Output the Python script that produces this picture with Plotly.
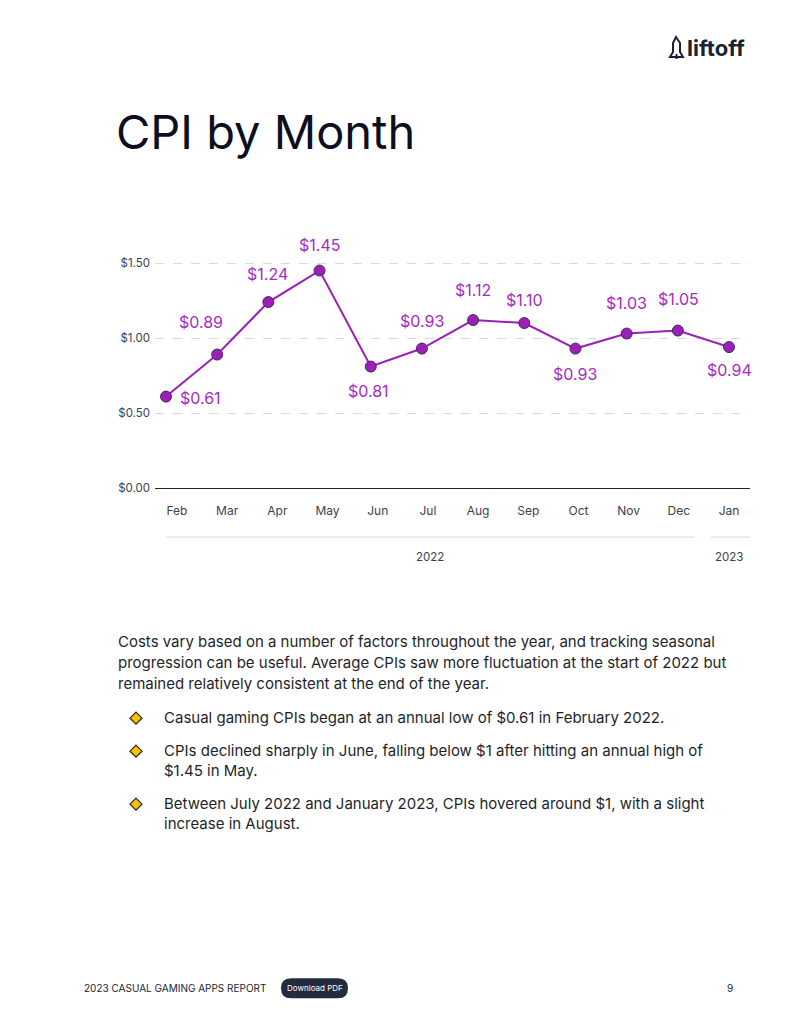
import plotly.graph_objects as go

# ---------------- data ----------------
months = ["Feb", "Mar", "Apr", "May", "Jun", "Jul", "Aug", "Sep", "Oct", "Nov", "Dec", "Jan"]
years = ["2022"] * 11 + ["2023"]
cpi = [0.61, 0.89, 1.24, 1.45, 0.81, 0.93, 1.12, 1.10, 0.93, 1.03, 1.05, 0.94]
y_ticks = [0.0, 0.5, 1.0, 1.5]
y_tick_text = ["$0.00", "$0.50", "$1.00", "$1.50"]

title_text = "CPI by Month"
paragraph = [
    "Costs vary based on a number of factors throughout the year, and tracking seasonal",
    "progression can be useful. Average CPIs saw more fluctuation at the start of 2022 but",
    "remained relatively consistent at the end of the year.",
]
bullets = [
    ["Casual gaming CPIs began at an annual low of $0.61 in February 2022."],
    ["CPIs declined sharply in June, falling below $1 after hitting an annual high of", "$1.45 in May."],
    ["Between July 2022 and January 2023, CPIs hovered around $1, with a slight", "increase in August."],
]
footer_left = "2023 CASUAL GAMING APPS REPORT"
footer_button = "Download PDF"
page_number = "9"
logo_text = "liftoff"

# ---------------- style ----------------
W, H = 800, 1035
VS = 1.007  # vertical calibration
PURPLE = "#9D1FBA"
LABEL_PURPLE = "#A52AC4"
DARK = "#1B2233"
TEXT = "#1E1F2B"
FONT = "Inter, Open Sans, sans-serif"

# label offsets in pixels (dx, dy) per point
label_offsets = [(34, 1), (-16, -33), (-1, -28), (0, -26), (-2, 24), (0, -28),
                 (0, -30), (0, -23), (0, 25), (0, -31), (1, -32), (0, 23)]


def px(x):
    return x / W


def py(y):
    return 1 - y * VS / H


fig = go.Figure()

fig.add_trace(go.Scatter(
    x=months, y=cpi, mode="lines+markers",
    line=dict(color=PURPLE, width=2),
    marker=dict(size=11, color=PURPLE, line=dict(color="#3A2E52", width=1)),
    xaxis="x", yaxis="y", hoverinfo="skip", cliponaxis=False,
))
# invisible trace carrying the month tick labels axis
fig.add_trace(go.Scatter(
    x=months, y=cpi, mode="markers", marker=dict(opacity=0),
    xaxis="x2", yaxis="y", hoverinfo="skip", showlegend=False,
))

annotations = []
for m, v, (dx, dy) in zip(months, cpi, label_offsets):
    annotations.append(dict(
        x=m, y=v, xref="x", yref="y", text=f"${v:.2f}", showarrow=False,
        xshift=dx, yshift=-dy, font=dict(family=FONT, size=16, color=LABEL_PURPLE),
    ))

# year group lines and labels (on x2 category axis)
shapes = []
groups = []
for i, yv in enumerate(years):
    if not groups or groups[-1][0] != yv:
        groups.append([yv, i, i])
    else:
        groups[-1][2] = i
for gi, (yv, a, b) in enumerate(groups):
    x0 = a - 0.22 if gi == 0 else a - 0.36
    x1 = b + 0.32 if gi < len(groups) - 1 else b + 0.42
    shapes.append(dict(type="line", xref="x2", yref="paper", x0=x0, x1=x1,
                       y0=py(537), y1=py(537), line=dict(color="#D3DAEA", width=1)))
    annotations.append(dict(x=(x0 + x1) / 2 if gi == 0 else b, y=py(557), xref="x2", yref="paper",
                            text=yv, showarrow=False, xanchor="center", yanchor="middle",
                            font=dict(family=FONT, size=11.5, color="#3C4150")))

# title
annotations.append(dict(x=px(114), y=py(131), xref="paper", yref="paper", text=title_text,
                        showarrow=False, xanchor="left", yanchor="middle",
                        font=dict(family=FONT, size=47, color="#0D0F1E")))

# paragraph
for i, line in enumerate(paragraph):
    annotations.append(dict(x=px(116), y=py(641 + 21 * i), xref="paper", yref="paper", text=line,
                            showarrow=False, xanchor="left", yanchor="middle",
                            font=dict(family=FONT, size=15, color=TEXT)))

bullet_y = [717, 750, 803]
for b, y0 in zip(bullets, bullet_y):
    for j, line in enumerate(b):
        annotations.append(dict(x=px(162), y=py(y0 + 20 * j), xref="paper", yref="paper", text=line,
                                showarrow=False, xanchor="left", yanchor="middle",
                                font=dict(family=FONT, size=15, color=TEXT)))
    cx, cy, r = 136, y0 + 1, 6
    path = (f"M {px(cx)} {py(cy - r)} L {px(cx + r)} {py(cy)} "
            f"L {px(cx)} {py(cy + r)} L {px(cx - r)} {py(cy)} Z")
    shapes.append(dict(type="path", xref="paper", yref="paper", path=path,
                       fillcolor="#F6C200", line=dict(color="#2A2A2A", width=1.3)))

# logo
annotations.append(dict(x=px(685), y=py(48), xref="paper", yref="paper", text=f"<b>{logo_text}</b>",
                        showarrow=False, xanchor="left", yanchor="middle",
                        font=dict(family=FONT, size=22, color=DARK)))
rocket = [(676, 37), (680, 43), (680, 52), (683, 57), (670, 57), (673, 52), (673, 43)]
rp = "M " + " L ".join(f"{px(x)} {py(y)}" for x, y in rocket) + " Z"
shapes.append(dict(type="path", xref="paper", yref="paper", path=rp,
                   fillcolor="rgba(0,0,0,0)", line=dict(color=DARK, width=2)))
shapes.append(dict(type="line", xref="paper", yref="paper", x0=px(676.5), x1=px(676.5),
                   y0=py(54), y1=py(59), line=dict(color=DARK, width=2)))

# footer
annotations.append(dict(x=px(82), y=py(988), xref="paper", yref="paper", text=footer_left,
                        showarrow=False, xanchor="left", yanchor="middle",
                        font=dict(family=FONT, size=10, color="#222433")))
bx0, bx1, by0, by1, br = 281, 348, 978, 998, 10
btn = (f"M {px(bx0 + br)} {py(by0)} L {px(bx1 - br)} {py(by0)} "
       f"Q {px(bx1)} {py(by0)} {px(bx1)} {py(by0 + br)} "
       f"Q {px(bx1)} {py(by1)} {px(bx1 - br)} {py(by1)} "
       f"L {px(bx0 + br)} {py(by1)} Q {px(bx0)} {py(by1)} {px(bx0)} {py(by0 + br)} "
       f"Q {px(bx0)} {py(by0)} {px(bx0 + br)} {py(by0)} Z")
shapes.append(dict(type="path", xref="paper", yref="paper", path=btn,
                   fillcolor="#232B3E", line=dict(width=0)))
annotations.append(dict(x=px((bx0 + bx1) / 2), y=py(988), xref="paper", yref="paper",
                        text=footer_button, showarrow=False, xanchor="center", yanchor="middle",
                        font=dict(family=FONT, size=8, color="white")))
annotations.append(dict(x=px(730), y=py(988), xref="paper", yref="paper", text=page_number,
                        showarrow=False, xanchor="center", yanchor="middle",
                        font=dict(family=FONT, size=10, color="#222433")))

n = len(months)
fig.update_layout(
    width=W, height=H, margin=dict(l=0, r=0, t=0, b=0),
    paper_bgcolor="white", plot_bgcolor="white", showlegend=False,
    xaxis=dict(domain=[px(155), px(750)], type="category", categoryorder="array",
               categoryarray=months, range=[-0.215, n - 1 + 0.41],
               showticklabels=False, showgrid=False, zeroline=False,
               showline=False, anchor="y"),
    xaxis2=dict(domain=[px(155), px(750)], type="category", categoryorder="array",
                categoryarray=months, range=[-0.438, n - 1 + 0.418],
                overlaying="x", side="bottom", anchor="y",
                showgrid=False, zeroline=False, showline=False,
                ticklabelstandoff=14,
                tickfont=dict(family=FONT, size=12, color="#3C4150")),
    yaxis=dict(domain=[py(488), py(248)], range=[0, 1.6], tickvals=y_ticks,
               ticktext=y_tick_text,
               showgrid=True, gridcolor="#D3DAEA", griddash="dash", gridwidth=1,
               zeroline=True, zerolinecolor="#1F2433", zerolinewidth=1,
               showline=False, ticklabelstandoff=4,
               tickfont=dict(family=FONT, size=11.5, color="#3C4150")),
    annotations=annotations, shapes=shapes,
)

fig.write_html("out.html")
